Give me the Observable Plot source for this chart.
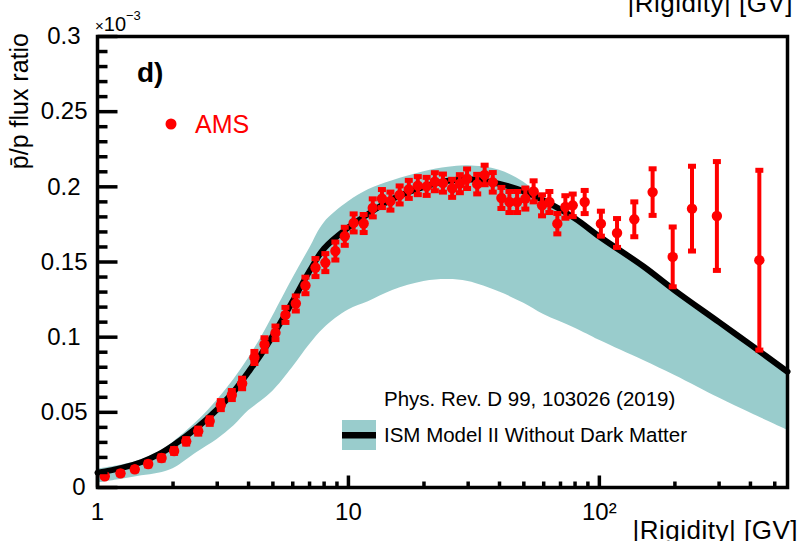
<!DOCTYPE html>
<html><head><meta charset="utf-8">
<script src="https://cdn.jsdelivr.net/npm/d3@7"></script>
<script src="https://cdn.jsdelivr.net/npm/@observablehq/plot@0.6"></script>
<style>
body{margin:0;background:#fff;}
#chart svg{display:block;}
</style>
</head><body><div id="chart"></div>
<script>
// AMS antiproton-to-proton flux ratio (x 10^-3)
const amsRigidity = [1.069,1.235,1.408,1.592,1.80,2.02,2.257,2.52,2.80,3.10,3.43,3.77,4.22,4.63,5.12,5.61,6.17,6.74,7.39,8.09,8.87,9.67,10.49,11.5,12.5,13.6,14.7,16.0,17.4,18.9,20.5,22.1,23.8,25.9,27.8,29.7,32.6,34.9,37.6,40.7,43.8,47.0,50.7,54.7,59.1,63.2,68.0,73.2,78.3,87.4,101.4,117.6,137.8,163,196,234,294,434];
const amsRatio = [0.0075,0.0094,0.0121,0.0156,0.0196,0.0243,0.0307,0.0375,0.0442,0.0548,0.0615,0.0692,0.0865,0.0951,0.1029,0.1148,0.1224,0.1344,0.1463,0.1496,0.1573,0.1671,0.1760,0.1756,0.1860,0.1922,0.1905,0.1946,0.1983,0.2008,0.2003,0.2034,0.2025,0.1990,0.2021,0.2054,0.2018,0.2079,0.2030,0.1926,0.1899,0.1899,0.1922,0.1970,0.1877,0.1899,0.1755,0.1866,0.1877,0.1899,0.1755,0.1693,0.1784,0.1965,0.1534,0.1855,0.1806,0.1512];
const amsError = [0.0008,0.0009,0.001,0.0012,0.0014,0.0016,0.0018,0.002,0.0022,0.003,0.003,0.0035,0.004,0.0045,0.0045,0.005,0.005,0.0055,0.006,0.006,0.006,0.006,0.006,0.006,0.006,0.006,0.006,0.006,0.006,0.006,0.006,0.006,0.006,0.006,0.006,0.0065,0.0065,0.0065,0.0065,0.007,0.007,0.007,0.007,0.007,0.007,0.007,0.0068,0.0075,0.0075,0.0077,0.0083,0.0096,0.0116,0.0155,0.0199,0.0282,0.0362,0.0598];

// ISM Model II without dark matter: central curve and uncertainty band
const modelRigidity = [1,1.25,1.5,1.75,2,2.5,3,3.5,4,4.5,5,6,7,8,10,12,15,20,25,30,40,50,60,80,100,150,200,300,400,562];
const modelRatio = [0.0098,0.0130,0.0170,0.0220,0.0280,0.040,0.052,0.064,0.077,0.089,0.101,0.124,0.144,0.159,0.173,0.182,0.192,0.200,0.204,0.205,0.202,0.197,0.191,0.179,0.167,0.147,0.131,0.110,0.095,0.077];
const bandLow = [0.003,0.0055,0.0078,0.0095,0.0125,0.0235,0.032,0.041,0.051,0.0575,0.064,0.080,0.095,0.106,0.118,0.1235,0.131,0.137,0.1383,0.137,0.130,0.1225,0.115,0.106,0.098,0.0845,0.0745,0.0595,0.0495,0.0382];
const bandHigh = [0.0123,0.015,0.0185,0.0235,0.030,0.044,0.058,0.072,0.086,0.100,0.114,0.139,0.159,0.176,0.190,0.198,0.204,0.210,0.213,0.214,0.211,0.203,0.192,0.179,0.167,0.147,0.131,0.110,0.095,0.077];

const xDomain = [1, 562];
const yDomain = [0, 0.3];
const xMajorTicks = [1, 10, 100];
const xMajorLabels = ["1", "10", "10²"];
const xMinorTicks = [2,3,4,5,6,7,8,9,20,30,40,50,60,70,80,90,200,300,400,500];
const yMajorTicks = [0, 0.05, 0.1, 0.15, 0.2, 0.25, 0.3];
const yMajorLabels = ["0", "0.05", "0.1", "0.15", "0.2", "0.25", "0.3"];
const yMinorTicks = [0.01,0.02,0.03,0.04,0.06,0.07,0.08,0.09,0.11,0.12,0.13,0.14,0.16,0.17,0.18,0.19,0.21,0.22,0.23,0.24,0.26,0.27,0.28,0.29];

const ams = amsRigidity.map((r, i) => ({r, v: amsRatio[i], e: amsError[i]}));
const model = modelRigidity.map((r, i) => ({r, v: modelRatio[i], lo: bandLow[i], hi: bandHigh[i]}));
const caps = ams.flatMap(d => [{r: d.r, y: d.v - d.e}, {r: d.r, y: d.v + d.e}]);

const lineSym = (dx, dy) => ({draw(c) { c.moveTo(0, 0); c.lineTo(dx, dy); }});
const capSym = {draw(c) { c.rect(-4, -2.5, 8, 5); }};
const FONT = "Liberation Sans, Arial, Helvetica, sans-serif";
// ROOT right-aligns labels as if padded to two decimals
const yLabelShift = t => t === "0" ? -12 : (t.length === 3 ? -17 : -10);

const plot = Plot.plot({
  width: 802, height: 541,
  marginLeft: 97, marginRight: 15, marginTop: 36, marginBottom: 54,
  style: {fontFamily: FONT, background: "white", overflow: "visible"},
  x: {type: "log", domain: xDomain, axis: null},
  y: {domain: yDomain, axis: null},
  marks: [
    Plot.areaY(model, {x: "r", y1: "lo", y2: "hi", fill: "#99cccc", curve: "catmull-rom"}),
    Plot.line(model, {x: "r", y: "v", stroke: "black", strokeWidth: 6, curve: "catmull-rom"}),
    Plot.ruleX(ams, {x: "r", y1: d => d.v - d.e, y2: d => d.v + d.e, stroke: "#ff0000", strokeWidth: 4}),
    Plot.dot(caps, {x: "r", y: "y", symbol: capSym, fill: "#ff0000", stroke: "none"}),
    Plot.dot(ams, {x: "r", y: "v", r: 5.2, fill: "#ff0000", stroke: "none"}),
    Plot.frame({stroke: "black", strokeWidth: 3.5}),
    Plot.dot(yMajorTicks, {x: () => xDomain[0], y: d => d, symbol: lineSym(20, 0), fill: "none", stroke: "black", strokeWidth: 3.5}),
    Plot.dot(yMinorTicks, {x: () => xDomain[0], y: d => d, symbol: lineSym(10, 0), fill: "none", stroke: "black", strokeWidth: 3.5}),
    Plot.dot(xMajorTicks, {x: d => d, y: () => yDomain[0], symbol: lineSym(0, -12), fill: "none", stroke: "black", strokeWidth: 3.5}),
    Plot.dot(xMinorTicks, {x: d => d, y: () => yDomain[0], symbol: lineSym(0, -6), fill: "none", stroke: "black", strokeWidth: 3.5}),
    Plot.text(yMajorTicks, {x: () => xDomain[0], y: d => d, text: (d, i) => yMajorLabels[i], textAnchor: "end", lineAnchor: "middle", fontSize: 24, fill: "black"}),
    Plot.text(xMajorTicks, {x: d => d, y: () => yDomain[0], text: (d, i) => xMajorLabels[i], textAnchor: "middle", lineAnchor: "middle", dy: 25, fontSize: 24, fill: "black"})
  ]
});

document.getElementById("chart").appendChild(plot);
const svg = d3.select(plot.tagName.toLowerCase() === "svg" ? plot : plot.querySelector("svg"));

svg.selectAll("text").each(function() {
  const t = this.textContent;
  if (yMajorLabels.includes(t)) d3.select(this).attr("dx", yLabelShift(t));
});

const ann = svg.append("g").attr("font-family", FONT).attr("text-anchor", "start");
// multiplier
const mult = ann.append("text").attr("x", 95).attr("y", 31).attr("font-size", 20).attr("fill", "black");
mult.append("tspan").attr("font-size", 15).text("×");
mult.append("tspan").text("10");
mult.append("tspan").attr("font-size", 13).attr("dy", -11).text("−3");
// y title
ann.append("text").attr("transform", "translate(28,33) rotate(-90)").attr("text-anchor", "end")
  .attr("font-size", 25).attr("fill", "black").text("p\u0304/p flux ratio");
// x titles
ann.append("text").attr("x", 798).attr("y", 539).attr("text-anchor", "end").attr("font-size", 26)
  .attr("letter-spacing", 0.5).attr("fill", "black").text("|Rigidity| [GV]");
ann.append("text").attr("x", 793).attr("y", 12).attr("text-anchor", "end").attr("font-size", 26)
  .attr("letter-spacing", 0.5).attr("fill", "black").text("|Rigidity| [GV]");
// panel label
ann.append("text").attr("x", 137).attr("y", 82).attr("font-size", 28).attr("font-weight", "bold").attr("fill", "black").text("d)");
// AMS legend
ann.append("circle").attr("cx", 171).attr("cy", 124).attr("r", 5.5).attr("fill", "#ff0000");
ann.append("text").attr("x", 195).attr("y", 133).attr("font-size", 25).attr("fill", "#ff0000").text("AMS");
// model legend
ann.append("text").attr("x", 384).attr("y", 406).attr("font-size", 20.5).attr("fill", "black").text("Phys. Rev. D 99, 103026 (2019)");
ann.append("rect").attr("x", 342).attr("y", 420).attr("width", 34).attr("height", 30).attr("fill", "#99cccc");
ann.append("rect").attr("x", 342).attr("y", 432).attr("width", 34).attr("height", 6.5).attr("fill", "black");
ann.append("text").attr("x", 384).attr("y", 442).attr("font-size", 20.5).attr("fill", "black").text("ISM Model II Without Dark Matter");
</script>
</body></html>
